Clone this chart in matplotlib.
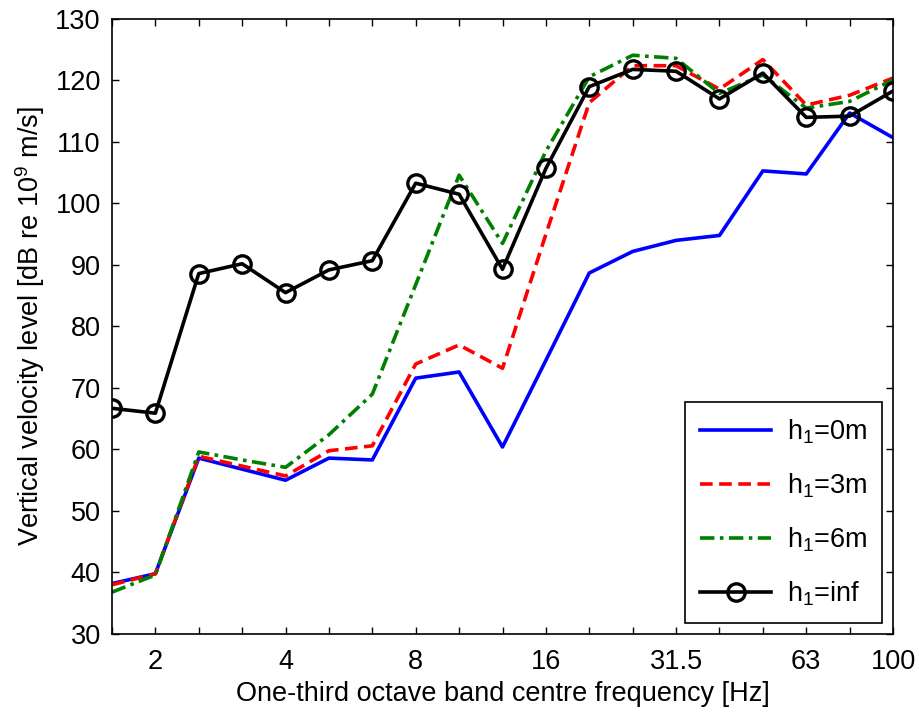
import numpy as np
import matplotlib.pyplot as plt

plt.rcParams['font.family'] = ['Liberation Sans', 'DejaVu Sans']
plt.rcParams['mathtext.fontset'] = 'custom'
plt.rcParams['mathtext.rm'] = 'Liberation Sans'
plt.rcParams['mathtext.it'] = 'Liberation Sans'

# one-third octave bands, 1.6 .. 100 Hz
bands = ['1.6', '2', '2.5', '3.15', '4', '5', '6.3', '8', '10', '12.5',
         '16', '20', '25', '31.5', '40', '50', '63', '80', '100']
shown = ['2', '4', '8', '16', '31.5', '63', '100']

h0 = [38.2, 39.8, 58.6, 56.8, 55.0, 58.6, 58.3, 71.6, 72.6, 60.4,
      74.5, 88.7, 92.2, 94.0, 94.8, 105.3, 104.8, 114.7, 110.7]
h3 = [38.0, 39.8, 58.9, 57.3, 55.7, 59.8, 60.6, 73.9, 77.0, 73.2,
      95.0, 116.4, 122.4, 122.4, 118.6, 123.4, 116.0, 117.6, 120.4]
h6 = [36.8, 39.6, 59.6, 58.3, 57.1, 62.4, 69.0, 86.8, 104.6, 93.5,
      108.5, 120.6, 124.1, 123.6, 117.9, 120.9, 115.5, 116.6, 120.1]
hinf = [66.7, 65.9, 88.6, 90.2, 85.5, 89.2, 90.7, 103.3, 101.5, 89.3,
        105.7, 119.0, 121.8, 121.5, 117.0, 121.2, 114.0, 114.2, 118.3]

x = np.arange(len(bands))

fig = plt.figure(figsize=(9.2, 7.13), dpi=100)
ax = fig.add_axes([0.1217, 0.1108, 0.849, 0.8626])

ax.plot(x, h0, color='#0000ff', lw=2.6, label=r'h$_1$=0m')
ax.plot(x, h3, color='#ff0000', lw=2.6, ls=(0, (3.5, 1.8)), label=r'h$_1$=3m')
ax.plot(x, h6, color='#008000', lw=2.6, ls=(0, (4, 1.5, 1, 1.5)), label=r'h$_1$=6m')
ax.plot(x, hinf, color='black', lw=2.6, marker='o', ms=12.5, mfc='none',
        mew=2.4, label=r'h$_1$=inf')

ax.set_xlim(0, len(bands) - 1)
ax.set_ylim(30, 130)
ax.set_yticks(np.arange(30, 131, 10))
ax.set_xticks(x)
ax.set_xticklabels([b if b in shown else '' for b in bands])
ax.tick_params(direction='in', length=5, width=1, labelsize=19.5,
               top=True, right=True, pad=8)
ax.tick_params(axis='x', pad=11)
for s in ax.spines.values():
    s.set_linewidth(1.2)

ax.set_xlabel('One-third octave band centre frequency [Hz]', fontsize=19.5, labelpad=4)
ax.set_ylabel(r'Vertical velocity level [dB re 10$^{9}$ m/s]', fontsize=19.5, labelpad=6)

leg = ax.legend(loc='lower right', fontsize=19.5, fancybox=False, framealpha=1,
                edgecolor='black', handlelength=2.6, labelspacing=0.95,
                borderaxespad=0.4, borderpad=0.55, handletextpad=0.6)
leg.get_frame().set_linewidth(1.2)

fig.savefig('out.png', dpi=100)
